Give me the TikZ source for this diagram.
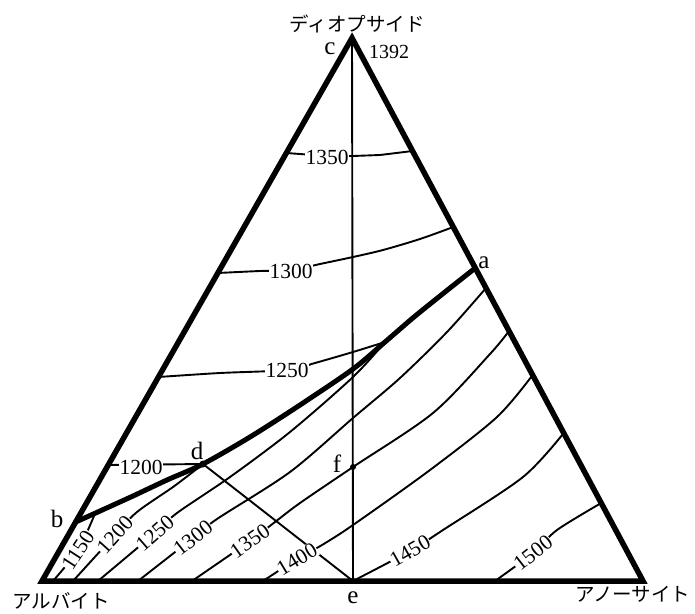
\documentclass[tikz,border=0pt]{standalone}
\usepackage{fontspec}
\setmainfont{Liberation Serif}
\newfontfamily\jpfont{Noto Sans CJK JP}
\usetikzlibrary{calc}
\begin{document}
\begin{tikzpicture}[x=1pt,y=-1pt,
  edge/.style={line width=5.5pt,line join=miter},
  cot/.style={line width=5pt,line cap=round,line join=round},
  iso/.style={line width=1.9pt,line join=round},
  num/.style={font=\fontsize{21.5pt}{22pt}\selectfont,fill=white,inner sep=0.6pt},
  lett/.style={font=\fontsize{25pt}{25pt}\selectfont,inner sep=0pt},
  jlab/.style={font=\jpfont\fontsize{19.5pt}{20pt}\selectfont,inner sep=0pt}]
\useasboundingbox (0,0) rectangle (695,613);
\coordinate (A) at (42,581);
\coordinate (B) at (643,581);
\coordinate (C) at (352,38);
\coordinate (e) at (353,581);
\coordinate (f) at (353,467);
\coordinate (a) at (475.3,268);
\coordinate (b) at (75.7,522);
\coordinate (d) at (203,464);
\coordinate (j) at (385,342);
% central join c--e
\draw[iso] (C) -- (e);
% d--e line
\draw[iso] (d) -- (e);
% diopside field isotherms
\draw[iso] (286.3,153) -- (327,156) -- (353,156) -- (380,155) -- (412.6,151);
\draw[iso] plot[smooth] coordinates {(217.8,273) (260,271) (292,270) (320,264) (353,257) (383,250) (420,239) (453.3,227)};
\draw[iso] plot[smooth] coordinates {(158.5,377) (220,373) (288,370) (315,363) (353,352) (j)};
\draw[iso] (108.2,465) -- (d);
% plagioclase field isotherms
\draw[iso] plot[smooth] coordinates {(53,581) (78,550) (94,516)};
\draw[iso] plot[smooth] coordinates {(73,581) (115,535) (137,512) (173,487) (198,468)};
\draw[iso] plot[smooth] coordinates {(98,581) (155,533) (177,513) (230,477) (290,432) (353,377) (j)};
\draw[iso] plot[smooth] coordinates {(138,581) (193,538) (217,519) (290,472) (353,418) (400,378) (447,332) (486,288)};
\draw[iso] plot[smooth] coordinates {(192,581) (250,541) (275,522) (300,503) (f) (433,413) (490,354) (509,331)};
\draw[iso] plot[smooth] coordinates {(263,581) (297,559) (322,545) (353,525) (430,470) (497,417) (532.6,375)};
\draw[iso] plot[smooth] coordinates {(e) (410,551) (443,530) (523,477) (563.7,433)};
\draw[iso] plot[smooth] coordinates {(495,581) (533,553) (557,530) (601.2,503)};
% cotectic
\draw[cot] plot[smooth,tension=0.5] coordinates {(b) (100,511) (133,496) (167,480) (d) (250,437) (300,405) (353,369) (j) (414,317) (445,292) (a)};
% triangle
\draw[edge] (A) -- (B) -- (C) -- cycle;
% points
\fill (f) circle (3);
\fill (d) circle (3.5);
\fill (e) circle (3);
% isotherm labels
\node[num] (t1350u) at (327,157) {1350};
\node[num] (t1300u) at (291,271) {1300};
\node[num] (t1250u) at (287,370) {1250};
\node[num] (t1200u) at (141,467) {1200};
\node[num,rotate=57] (t1150) at (78,550) {1150};
\node[num,rotate=48] (t1200) at (115,535) {1200};
\node[num,rotate=41] (t1250) at (155,533) {1250};
\node[num,rotate=38] (t1300) at (193,538) {1300};
\node[num,rotate=35] (t1350) at (250,541) {1350};
\node[num,rotate=31] (t1400) at (297,559) {1400};
\node[num,rotate=29.5] (t1450) at (410,551) {1450};
\node[num,rotate=38] (t1500) at (533,553) {1500};
\node[font=\fontsize{20pt}{20pt}\selectfont,inner sep=0pt] (t1392) at (389,52) {1392};
% point letters
\node[lett] (lc) at (330,49) {c};
\node[lett] (la) at (484,263) {a};
\node[lett] (lb) at (57,519) {b};
\node[lett] (ld) at (197,451) {d};
\node[lett] (le) at (353,598) {e};
\node[lett] (lf) at (337,464) {f};
% component names
\node[jlab] (ldi) at (357,24) {ディオプサイド};
\node[jlab] (lab) at (61,601) {アルバイト};
\node[jlab] (lan) at (633,594) {アノーサイト};
\end{tikzpicture}
\end{document}
